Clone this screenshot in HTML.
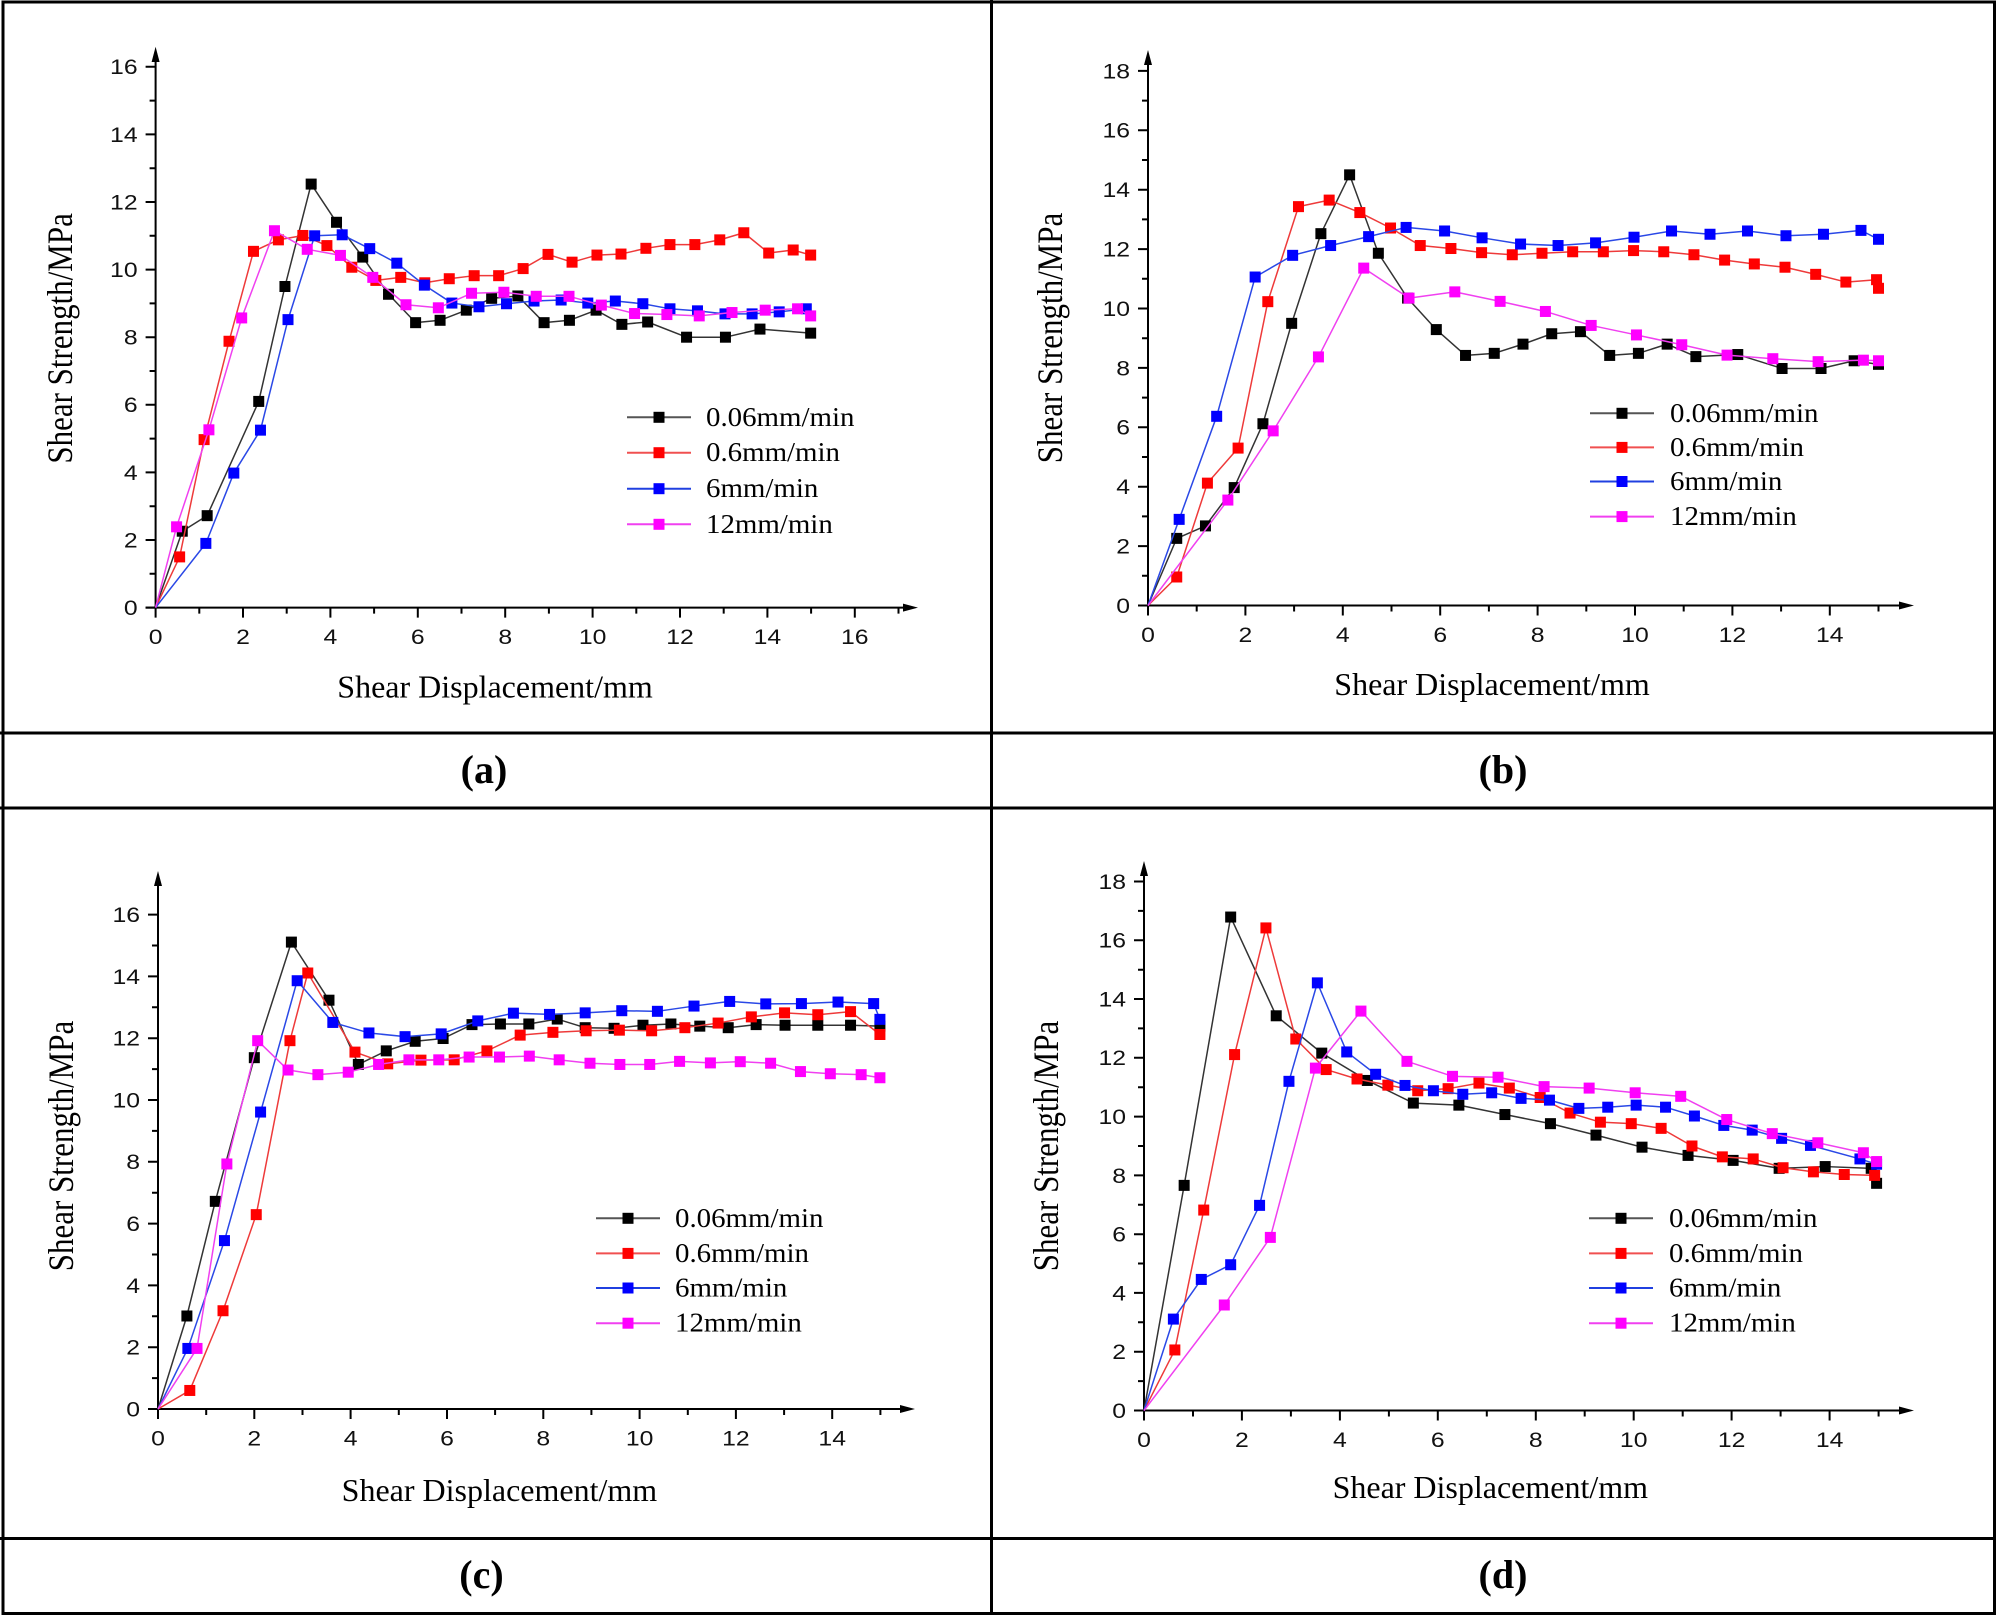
<!DOCTYPE html>
<html><head><meta charset="utf-8"><style>
html,body{margin:0;padding:0;background:#fff;}
svg{display:block;}
.tk{font-family:"Liberation Sans",Arial,sans-serif;font-size:21px;fill:#111;}
.lg{font-family:"Liberation Serif","Times New Roman",serif;font-size:27px;fill:#000;}
.al{font-family:"Liberation Serif","Times New Roman",serif;font-size:31px;fill:#000;}
.cp{font-family:"Liberation Serif","Times New Roman",serif;font-size:40px;font-weight:bold;fill:#000;}
.s{fill:none;stroke-width:1.5;vector-effect:non-scaling-stroke;stroke-linejoin:round;}
</style></head><body>
<svg width="1996" height="1615" viewBox="0 0 1996 1615" xmlns="http://www.w3.org/2000/svg">
<defs>
<marker id="a0" markerUnits="userSpaceOnUse" style="overflow:visible" markerWidth="1" markerHeight="1"><rect x="-0.1259" y="-0.1627" width="0.2517" height="0.3254" fill="#000"/></marker>
<marker id="a1" markerUnits="userSpaceOnUse" style="overflow:visible" markerWidth="1" markerHeight="1"><rect x="-0.1259" y="-0.1627" width="0.2517" height="0.3254" fill="#f00"/></marker>
<marker id="a2" markerUnits="userSpaceOnUse" style="overflow:visible" markerWidth="1" markerHeight="1"><rect x="-0.1259" y="-0.1627" width="0.2517" height="0.3254" fill="#00f"/></marker>
<marker id="a3" markerUnits="userSpaceOnUse" style="overflow:visible" markerWidth="1" markerHeight="1"><rect x="-0.1259" y="-0.1627" width="0.2517" height="0.3254" fill="#f0f"/></marker>
<marker id="b0" markerUnits="userSpaceOnUse" style="overflow:visible" markerWidth="1" markerHeight="1"><rect x="-0.1129" y="-0.1852" width="0.2259" height="0.3704" fill="#000"/></marker>
<marker id="b1" markerUnits="userSpaceOnUse" style="overflow:visible" markerWidth="1" markerHeight="1"><rect x="-0.1129" y="-0.1852" width="0.2259" height="0.3704" fill="#f00"/></marker>
<marker id="b2" markerUnits="userSpaceOnUse" style="overflow:visible" markerWidth="1" markerHeight="1"><rect x="-0.1129" y="-0.1852" width="0.2259" height="0.3704" fill="#00f"/></marker>
<marker id="b3" markerUnits="userSpaceOnUse" style="overflow:visible" markerWidth="1" markerHeight="1"><rect x="-0.1129" y="-0.1852" width="0.2259" height="0.3704" fill="#f0f"/></marker>
<marker id="c0" markerUnits="userSpaceOnUse" style="overflow:visible" markerWidth="1" markerHeight="1"><rect x="-0.1142" y="-0.178" width="0.2284" height="0.356" fill="#000"/></marker>
<marker id="c1" markerUnits="userSpaceOnUse" style="overflow:visible" markerWidth="1" markerHeight="1"><rect x="-0.1142" y="-0.178" width="0.2284" height="0.356" fill="#f00"/></marker>
<marker id="c2" markerUnits="userSpaceOnUse" style="overflow:visible" markerWidth="1" markerHeight="1"><rect x="-0.1142" y="-0.178" width="0.2284" height="0.356" fill="#00f"/></marker>
<marker id="c3" markerUnits="userSpaceOnUse" style="overflow:visible" markerWidth="1" markerHeight="1"><rect x="-0.1142" y="-0.178" width="0.2284" height="0.356" fill="#f0f"/></marker>
<marker id="d0" markerUnits="userSpaceOnUse" style="overflow:visible" markerWidth="1" markerHeight="1"><rect x="-0.1123" y="-0.1871" width="0.2246" height="0.3743" fill="#000"/></marker>
<marker id="d1" markerUnits="userSpaceOnUse" style="overflow:visible" markerWidth="1" markerHeight="1"><rect x="-0.1123" y="-0.1871" width="0.2246" height="0.3743" fill="#f00"/></marker>
<marker id="d2" markerUnits="userSpaceOnUse" style="overflow:visible" markerWidth="1" markerHeight="1"><rect x="-0.1123" y="-0.1871" width="0.2246" height="0.3743" fill="#00f"/></marker>
<marker id="d3" markerUnits="userSpaceOnUse" style="overflow:visible" markerWidth="1" markerHeight="1"><rect x="-0.1123" y="-0.1871" width="0.2246" height="0.3743" fill="#f0f"/></marker>
</defs>

<rect width="1996" height="1615" fill="#fff"/>

<!-- frame -->
<g stroke="#000" stroke-width="3" fill="none">
<rect x="3" y="2" width="1991.5" height="1611.5"/>
<line x1="991.5" y1="0" x2="991.5" y2="1615"/>
<line x1="0" y1="733" x2="1996" y2="733"/>
<line x1="0" y1="808" x2="1996" y2="808"/>
<line x1="0" y1="1538.5" x2="1996" y2="1538.5"/>
</g>

<!-- ================= PANEL A ================= -->
<g stroke="#000" stroke-width="2" fill="none">
<path d="M155.6,607.6V58 M145.6,607.6H906"/>
<path d="M155.6,607.6v10 M199.3,607.6v6 M243,607.6v10 M286.7,607.6v6 M330.4,607.6v10 M374.1,607.6v6 M417.8,607.6v10 M461.5,607.6v6 M505.2,607.6v10 M548.9,607.6v6 M592.6,607.6v10 M636.3,607.6v6 M680,607.6v10 M723.7,607.6v6 M767.4,607.6v10 M811.1,607.6v6 M854.8,607.6v10 M898.5,607.6v6"/>
<path d="M155.6,607.6h-10 M155.6,573.8h-6 M155.6,540h-10 M155.6,506.2h-6 M155.6,472.4h-10 M155.6,438.6h-6 M155.6,404.8h-10 M155.6,371h-6 M155.6,337.2h-10 M155.6,303.4h-6 M155.6,269.6h-10 M155.6,235.8h-6 M155.6,202h-10 M155.6,168.2h-6 M155.6,134.4h-10 M155.6,100.6h-6 M155.6,66.8h-10"/>
</g>
<polygon points="155.6,46.7 151.6,62 159.6,62" fill="#000"/>
<polygon points="918,607.6 903,603.6 903,611.6" fill="#000"/>
<g class="tk" text-anchor="end">
<text transform="translate(137.6,615) scale(1.18,1)">0</text>
<text transform="translate(137.6,547.4) scale(1.18,1)">2</text>
<text transform="translate(137.6,479.8) scale(1.18,1)">4</text>
<text transform="translate(137.6,412.2) scale(1.18,1)">6</text>
<text transform="translate(137.6,344.6) scale(1.18,1)">8</text>
<text transform="translate(137.6,277) scale(1.18,1)">10</text>
<text transform="translate(137.6,209.4) scale(1.18,1)">12</text>
<text transform="translate(137.6,141.8) scale(1.18,1)">14</text>
<text transform="translate(137.6,74.2) scale(1.18,1)">16</text>
</g>
<g class="tk" text-anchor="middle">
<text transform="translate(155.6,644) scale(1.18,1)">0</text>
<text transform="translate(243,644) scale(1.18,1)">2</text>
<text transform="translate(330.4,644) scale(1.18,1)">4</text>
<text transform="translate(417.8,644) scale(1.18,1)">6</text>
<text transform="translate(505.2,644) scale(1.18,1)">8</text>
<text transform="translate(592.6,644) scale(1.18,1)">10</text>
<text transform="translate(680,644) scale(1.18,1)">12</text>
<text transform="translate(767.4,644) scale(1.18,1)">14</text>
<text transform="translate(854.8,644) scale(1.18,1)">16</text>
</g>
<text class="al" text-anchor="middle" transform="translate(72,338.4) scale(1.15,1) rotate(-90)">Shear Strength/MPa</text>
<text class="al" text-anchor="middle" x="495" y="697.4" style="font-size:32px">Shear Displacement/mm</text>
<g transform="translate(155.6,607.6) scale(43.7,-33.8)">
<polyline class="s" stroke="#333" marker-mid="url(#a0)" marker-end="url(#a0)" points="0,0 0.61,2.26 1.18,2.72 2.36,6.1 2.96,9.5 3.56,12.53 4.14,11.4 4.74,10.37 5.33,9.27 5.95,8.43 6.51,8.5 7.11,8.8 7.69,9.15 8.29,9.22 8.89,8.43 9.47,8.5 10.08,8.8 10.67,8.38 11.26,8.45 12.15,8.0 13.04,8.0 13.83,8.24 14.99,8.12"/>
<polyline class="s" stroke="#ee3a3a" marker-mid="url(#a1)" marker-end="url(#a1)" points="0,0 0.55,1.5 1.11,4.97 1.68,7.88 2.24,10.54 2.81,10.88 3.37,11.01 3.92,10.71 4.49,10.07 5.04,9.68 5.61,9.77 6.16,9.61 6.72,9.73 7.29,9.82 7.85,9.82 8.41,10.03 8.98,10.45 9.53,10.22 10.10,10.43 10.65,10.46 11.22,10.63 11.77,10.74 12.34,10.74 12.91,10.88 13.46,11.09 14.03,10.49 14.59,10.58 14.99,10.43"/>
<polyline class="s" stroke="#2a48e6" marker-mid="url(#a2)" marker-end="url(#a2)" points="0,0 1.15,1.9 1.79,3.98 2.40,5.25 3.03,8.52 3.64,11.0 4.27,11.03 4.90,10.62 5.52,10.19 6.15,9.54 6.78,9.01 7.40,8.90 8.03,8.99 8.66,9.07 9.28,9.10 9.89,9.01 10.52,9.07 11.15,8.99 11.77,8.84 12.40,8.78 13.03,8.69 13.65,8.69 14.27,8.75 14.89,8.84"/>
<polyline class="s" stroke="#f040f0" marker-mid="url(#a3)" marker-end="url(#a3)" points="0,0 0.48,2.39 1.22,5.26 1.97,8.57 2.72,11.15 3.47,10.6 4.23,10.42 4.97,9.77 5.73,8.96 6.47,8.87 7.23,9.30 7.97,9.33 8.71,9.21 9.46,9.21 10.20,8.95 10.96,8.70 11.70,8.67 12.44,8.63 13.19,8.73 13.95,8.80 14.69,8.84 14.99,8.63"/>
</g>
<g stroke-width="2">
<line x1="627" y1="417.3" x2="691" y2="417.3" stroke="#555"/>
<line x1="627" y1="452.7" x2="691" y2="452.7" stroke="#f05050"/>
<line x1="627" y1="488.7" x2="691" y2="488.7" stroke="#2040e0"/>
<line x1="627" y1="524.3" x2="691" y2="524.3" stroke="#f040f0"/>
</g>
<rect x="653.5" y="411.8" width="11" height="11" fill="#000"/>
<rect x="653.5" y="447.2" width="11" height="11" fill="#f00"/>
<rect x="653.5" y="483.2" width="11" height="11" fill="#00f"/>
<rect x="653.5" y="518.8" width="11" height="11" fill="#f0f"/>
<g class="lg">
<text transform="translate(706,425.8) scale(1.07,1)">0.06mm/min</text>
<text transform="translate(706,461.2) scale(1.07,1)">0.6mm/min</text>
<text transform="translate(706,497.2) scale(1.07,1)">6mm/min</text>
<text transform="translate(706,532.8) scale(1.07,1)">12mm/min</text>
</g>
<text class="cp" text-anchor="middle" x="484" y="783">(a)</text>

<!-- ================= PANEL B ================= -->
<g stroke="#000" stroke-width="2" fill="none">
<path d="M1148,605.5V62 M1138,605.5H1902"/>
<path d="M1148,605.5v10 M1196.7,605.5v6 M1245.4,605.5v10 M1294.1,605.5v6 M1342.8,605.5v10 M1391.5,605.5v6 M1440.2,605.5v10 M1488.9,605.5v6 M1537.6,605.5v10 M1586.3,605.5v6 M1635,605.5v10 M1683.7,605.5v6 M1732.4,605.5v10 M1781.1,605.5v6 M1829.8,605.5v10 M1878.5,605.5v6"/>
<path d="M1148,605.5h-10 M1148,575.8h-6 M1148,546.1h-10 M1148,516.4h-6 M1148,486.7h-10 M1148,457h-6 M1148,427.3h-10 M1148,397.6h-6 M1148,367.9h-10 M1148,338.2h-6 M1148,308.5h-10 M1148,278.8h-6 M1148,249.1h-10 M1148,219.4h-6 M1148,189.7h-10 M1148,160h-6 M1148,130.3h-10 M1148,100.6h-6 M1148,70.9h-10"/>
</g>
<polygon points="1148,50 1144,65 1152,65" fill="#000"/>
<polygon points="1914,605.5 1899,601.5 1899,609.5" fill="#000"/>
<g class="tk" text-anchor="end">
<text transform="translate(1130,612.9) scale(1.18,1)">0</text>
<text transform="translate(1130,553.5) scale(1.18,1)">2</text>
<text transform="translate(1130,494.1) scale(1.18,1)">4</text>
<text transform="translate(1130,434.7) scale(1.18,1)">6</text>
<text transform="translate(1130,375.3) scale(1.18,1)">8</text>
<text transform="translate(1130,315.9) scale(1.18,1)">10</text>
<text transform="translate(1130,256.5) scale(1.18,1)">12</text>
<text transform="translate(1130,197.1) scale(1.18,1)">14</text>
<text transform="translate(1130,137.7) scale(1.18,1)">16</text>
<text transform="translate(1130,78.3) scale(1.18,1)">18</text>
</g>
<g class="tk" text-anchor="middle">
<text transform="translate(1148,642) scale(1.18,1)">0</text>
<text transform="translate(1245.4,642) scale(1.18,1)">2</text>
<text transform="translate(1342.8,642) scale(1.18,1)">4</text>
<text transform="translate(1440.2,642) scale(1.18,1)">6</text>
<text transform="translate(1537.6,642) scale(1.18,1)">8</text>
<text transform="translate(1635,642) scale(1.18,1)">10</text>
<text transform="translate(1732.4,642) scale(1.18,1)">12</text>
<text transform="translate(1829.8,642) scale(1.18,1)">14</text>
</g>
<text class="al" text-anchor="middle" transform="translate(1062,338) scale(1.15,1) rotate(-90)">Shear Strength/MPa</text>
<text class="al" text-anchor="middle" x="1492" y="694.8" style="font-size:32px">Shear Displacement/mm</text>
<g transform="translate(1148,605.5) scale(48.7,-29.7)">
<polyline class="s" stroke="#333" marker-mid="url(#b0)" marker-end="url(#b0)" points="0,0 0.59,2.26 1.18,2.68 1.77,3.97 2.36,6.12 2.95,9.50 3.55,12.52 4.14,14.50 4.73,11.86 5.33,10.35 5.92,9.29 6.52,8.42 7.11,8.49 7.70,8.80 8.29,9.15 8.88,9.22 9.48,8.42 10.07,8.49 10.66,8.80 11.25,8.38 12.11,8.45 13.02,7.98 13.82,7.98 14.5,8.24 15.0,8.12"/>
<polyline class="s" stroke="#ee3a3a" marker-mid="url(#b1)" marker-end="url(#b1)" points="0,0 0.59,0.96 1.22,4.12 1.85,5.30 2.46,10.23 3.09,13.43 3.72,13.65 4.35,13.23 4.98,12.71 5.59,12.12 6.22,12.02 6.85,11.88 7.48,11.81 8.09,11.86 8.72,11.91 9.35,11.91 9.97,11.95 10.59,11.91 11.21,11.81 11.84,11.63 12.45,11.50 13.08,11.39 13.71,11.15 14.33,10.89 14.96,10.97 15.0,10.68"/>
<polyline class="s" stroke="#2a48e6" marker-mid="url(#b2)" marker-end="url(#b2)" points="0,0 0.64,2.90 1.41,6.37 2.20,11.06 2.97,11.79 3.75,12.12 4.53,12.42 5.30,12.73 6.09,12.61 6.86,12.38 7.65,12.17 8.42,12.12 9.19,12.21 9.98,12.40 10.75,12.61 11.54,12.50 12.31,12.61 13.10,12.45 13.87,12.50 14.64,12.63 15.0,12.33"/>
<polyline class="s" stroke="#f040f0" marker-mid="url(#b3)" marker-end="url(#b3)" points="0,0 1.64,3.55 2.57,5.88 3.50,8.37 4.43,11.36 5.36,10.35 6.30,10.56 7.23,10.24 8.16,9.90 9.10,9.43 10.03,9.11 10.96,8.78 11.89,8.43 12.83,8.31 13.76,8.21 14.69,8.26 15.0,8.24"/>
</g>
<g stroke-width="2">
<line x1="1590" y1="413.3" x2="1654" y2="413.3" stroke="#555"/>
<line x1="1590" y1="447.4" x2="1654" y2="447.4" stroke="#f05050"/>
<line x1="1590" y1="481.5" x2="1654" y2="481.5" stroke="#2040e0"/>
<line x1="1590" y1="516.6" x2="1654" y2="516.6" stroke="#f040f0"/>
</g>
<rect x="1616.5" y="407.8" width="11" height="11" fill="#000"/>
<rect x="1616.5" y="441.9" width="11" height="11" fill="#f00"/>
<rect x="1616.5" y="476" width="11" height="11" fill="#00f"/>
<rect x="1616.5" y="511.1" width="11" height="11" fill="#f0f"/>
<g class="lg">
<text transform="translate(1670,421.8) scale(1.07,1)">0.06mm/min</text>
<text transform="translate(1670,455.9) scale(1.07,1)">0.6mm/min</text>
<text transform="translate(1670,490) scale(1.07,1)">6mm/min</text>
<text transform="translate(1670,525.1) scale(1.07,1)">12mm/min</text>
</g>
<text class="cp" text-anchor="middle" x="1503" y="783">(b)</text>

<!-- ================= PANEL C ================= -->
<g stroke="#000" stroke-width="2" fill="none">
<path d="M158,1409V883 M148,1409H903"/>
<path d="M158,1409v10 M206.2,1409v6 M254.3,1409v10 M302.5,1409v6 M350.6,1409v10 M398.8,1409v6 M447,1409v10 M495.1,1409v6 M543.3,1409v10 M591.4,1409v6 M639.6,1409v10 M687.8,1409v6 M735.9,1409v10 M784.1,1409v6 M832.2,1409v10 M880.4,1409v6"/>
<path d="M158,1409h-10 M158,1378.1h-6 M158,1347.2h-10 M158,1316.3h-6 M158,1285.4h-10 M158,1254.5h-6 M158,1223.6h-10 M158,1192.7h-6 M158,1161.8h-10 M158,1130.9h-6 M158,1100h-10 M158,1069.1h-6 M158,1038.2h-10 M158,1007.3h-6 M158,976.4h-10 M158,945.5h-6 M158,914.6h-10"/>
</g>
<polygon points="158,871 154,886 162,886" fill="#000"/>
<polygon points="915,1409 900,1405 900,1413" fill="#000"/>
<g class="tk" text-anchor="end">
<text transform="translate(140,1416.4) scale(1.18,1)">0</text>
<text transform="translate(140,1354.6) scale(1.18,1)">2</text>
<text transform="translate(140,1292.8) scale(1.18,1)">4</text>
<text transform="translate(140,1231) scale(1.18,1)">6</text>
<text transform="translate(140,1169.2) scale(1.18,1)">8</text>
<text transform="translate(140,1107.4) scale(1.18,1)">10</text>
<text transform="translate(140,1045.6) scale(1.18,1)">12</text>
<text transform="translate(140,983.8) scale(1.18,1)">14</text>
<text transform="translate(140,922) scale(1.18,1)">16</text>
</g>
<g class="tk" text-anchor="middle">
<text transform="translate(158,1445.5) scale(1.18,1)">0</text>
<text transform="translate(254.3,1445.5) scale(1.18,1)">2</text>
<text transform="translate(350.6,1445.5) scale(1.18,1)">4</text>
<text transform="translate(447,1445.5) scale(1.18,1)">6</text>
<text transform="translate(543.3,1445.5) scale(1.18,1)">8</text>
<text transform="translate(639.6,1445.5) scale(1.18,1)">10</text>
<text transform="translate(735.9,1445.5) scale(1.18,1)">12</text>
<text transform="translate(832.2,1445.5) scale(1.18,1)">14</text>
</g>
<text class="al" text-anchor="middle" transform="translate(73,1146) scale(1.15,1) rotate(-90)">Shear Strength/MPa</text>
<text class="al" text-anchor="middle" x="499.4" y="1501" style="font-size:32px">Shear Displacement/mm</text>
<g transform="translate(158,1409) scale(48.16,-30.9)">
<polyline class="s" stroke="#333" marker-mid="url(#c0)" marker-end="url(#c0)" points="0,0 0.60,3.01 1.19,6.72 2.00,11.37 2.77,15.11 3.55,13.23 4.16,11.15 4.74,11.59 5.34,11.90 5.92,11.99 6.52,12.44 7.11,12.46 7.70,12.46 8.29,12.62 8.87,12.34 9.47,12.32 10.07,12.42 10.65,12.46 11.25,12.39 11.84,12.34 12.42,12.44 13.02,12.42 13.70,12.42 14.38,12.42 14.99,12.39"/>
<polyline class="s" stroke="#ee3a3a" marker-mid="url(#c1)" marker-end="url(#c1)" points="0,0 0.66,0.60 1.35,3.18 2.04,6.29 2.74,11.92 3.11,14.11 4.09,11.55 4.77,11.17 5.46,11.29 6.15,11.30 6.83,11.59 7.52,12.10 8.20,12.19 8.89,12.24 9.58,12.26 10.25,12.24 10.94,12.34 11.63,12.49 12.32,12.69 13.01,12.82 13.70,12.76 14.38,12.86 14.99,12.12"/>
<polyline class="s" stroke="#2a48e6" marker-mid="url(#c2)" marker-end="url(#c2)" points="0,0 0.62,1.96 1.38,5.45 2.13,9.61 2.89,13.86 3.63,12.51 4.38,12.17 5.13,12.05 5.88,12.14 6.64,12.56 7.38,12.81 8.13,12.77 8.87,12.82 9.63,12.89 10.37,12.87 11.13,13.04 11.87,13.19 12.62,13.11 13.36,13.12 14.12,13.17 14.86,13.12 14.99,12.61"/>
<polyline class="s" stroke="#f040f0" marker-mid="url(#c3)" marker-end="url(#c3)" points="0,0 0.81,1.96 1.43,7.93 2.07,11.92 2.70,10.97 3.32,10.82 3.95,10.90 4.58,11.15 5.21,11.30 5.83,11.30 6.46,11.39 7.09,11.39 7.71,11.42 8.33,11.30 8.97,11.19 9.59,11.15 10.21,11.15 10.83,11.25 11.47,11.20 12.09,11.24 12.72,11.19 13.34,10.92 13.96,10.85 14.60,10.82 14.99,10.72"/>
</g>
<g stroke-width="2">
<line x1="596" y1="1218.3" x2="660" y2="1218.3" stroke="#555"/>
<line x1="596" y1="1253.4" x2="660" y2="1253.4" stroke="#f05050"/>
<line x1="596" y1="1288" x2="660" y2="1288" stroke="#2040e0"/>
<line x1="596" y1="1323.2" x2="660" y2="1323.2" stroke="#f040f0"/>
</g>
<rect x="622.5" y="1212.8" width="11" height="11" fill="#000"/>
<rect x="622.5" y="1247.9" width="11" height="11" fill="#f00"/>
<rect x="622.5" y="1282.5" width="11" height="11" fill="#00f"/>
<rect x="622.5" y="1317.7" width="11" height="11" fill="#f0f"/>
<g class="lg">
<text transform="translate(675,1226.8) scale(1.07,1)">0.06mm/min</text>
<text transform="translate(675,1261.9) scale(1.07,1)">0.6mm/min</text>
<text transform="translate(675,1296.5) scale(1.07,1)">6mm/min</text>
<text transform="translate(675,1331.7) scale(1.07,1)">12mm/min</text>
</g>
<text class="cp" text-anchor="middle" x="481.5" y="1588">(c)</text>

<!-- ================= PANEL D ================= -->
<g stroke="#000" stroke-width="2" fill="none">
<path d="M1144,1410.5V873 M1134,1410.5H1902"/>
<path d="M1144,1410.5v10 M1193,1410.5v6 M1241.9,1410.5v10 M1290.9,1410.5v6 M1339.9,1410.5v10 M1388.9,1410.5v6 M1437.8,1410.5v10 M1486.8,1410.5v6 M1535.8,1410.5v10 M1584.7,1410.5v6 M1633.7,1410.5v10 M1682.7,1410.5v6 M1731.6,1410.5v10 M1780.6,1410.5v6 M1829.6,1410.5v10 M1878.6,1410.5v6"/>
<path d="M1144,1410.5h-10 M1144,1381.1h-6 M1144,1351.7h-10 M1144,1322.3h-6 M1144,1292.9h-10 M1144,1263.5h-6 M1144,1234.2h-10 M1144,1204.8h-6 M1144,1175.4h-10 M1144,1146h-6 M1144,1116.6h-10 M1144,1087.2h-6 M1144,1057.8h-10 M1144,1028.4h-6 M1144,999h-10 M1144,969.7h-6 M1144,940.3h-10 M1144,910.9h-6 M1144,881.5h-10"/>
</g>
<polygon points="1144,861 1140,876 1148,876" fill="#000"/>
<polygon points="1914,1410.5 1899,1406.5 1899,1414.5" fill="#000"/>
<g class="tk" text-anchor="end">
<text transform="translate(1126,1417.9) scale(1.18,1)">0</text>
<text transform="translate(1126,1359.1) scale(1.18,1)">2</text>
<text transform="translate(1126,1300.3) scale(1.18,1)">4</text>
<text transform="translate(1126,1241.6) scale(1.18,1)">6</text>
<text transform="translate(1126,1182.8) scale(1.18,1)">8</text>
<text transform="translate(1126,1124) scale(1.18,1)">10</text>
<text transform="translate(1126,1065.2) scale(1.18,1)">12</text>
<text transform="translate(1126,1006.4) scale(1.18,1)">14</text>
<text transform="translate(1126,947.7) scale(1.18,1)">16</text>
<text transform="translate(1126,888.9) scale(1.18,1)">18</text>
</g>
<g class="tk" text-anchor="middle">
<text transform="translate(1144,1447) scale(1.18,1)">0</text>
<text transform="translate(1241.9,1447) scale(1.18,1)">2</text>
<text transform="translate(1339.9,1447) scale(1.18,1)">4</text>
<text transform="translate(1437.8,1447) scale(1.18,1)">6</text>
<text transform="translate(1535.8,1447) scale(1.18,1)">8</text>
<text transform="translate(1633.7,1447) scale(1.18,1)">10</text>
<text transform="translate(1731.6,1447) scale(1.18,1)">12</text>
<text transform="translate(1829.6,1447) scale(1.18,1)">14</text>
</g>
<text class="al" text-anchor="middle" transform="translate(1058,1146) scale(1.15,1) rotate(-90)">Shear Strength/MPa</text>
<text class="al" text-anchor="middle" x="1490.3" y="1498" style="font-size:32px">Shear Displacement/mm</text>
<g transform="translate(1144,1410.5) scale(48.97,-29.39)">
<polyline class="s" stroke="#333" marker-mid="url(#d0)" marker-end="url(#d0)" points="0,0 0.82,7.66 1.77,16.79 2.70,13.43 3.63,12.16 4.56,11.23 5.50,10.46 6.43,10.39 7.37,10.07 8.30,9.76 9.23,9.37 10.17,8.96 11.11,8.68 12.03,8.51 12.97,8.24 13.91,8.30 14.85,8.24 14.96,7.73"/>
<polyline class="s" stroke="#ee3a3a" marker-mid="url(#d1)" marker-end="url(#d1)" points="0,0 0.63,2.06 1.22,6.82 1.85,12.11 2.49,16.42 3.10,12.64 3.72,11.60 4.35,11.28 4.98,11.07 5.59,10.88 6.21,10.95 6.84,11.14 7.46,10.97 8.09,10.65 8.70,10.12 9.32,9.81 9.95,9.76 10.56,9.60 11.19,9.00 11.81,8.63 12.44,8.56 13.05,8.26 13.67,8.12 14.30,8.03 14.92,8.00"/>
<polyline class="s" stroke="#2a48e6" marker-mid="url(#d2)" marker-end="url(#d2)" points="0,0 0.60,3.11 1.17,4.46 1.77,4.96 2.36,6.98 2.96,11.20 3.54,14.55 4.14,12.20 4.73,11.44 5.33,11.06 5.91,10.88 6.51,10.76 7.10,10.81 7.70,10.62 8.28,10.56 8.88,10.28 9.47,10.32 10.05,10.39 10.65,10.32 11.24,10.02 11.84,9.70 12.42,9.54 13.02,9.26 13.61,9.02 14.62,8.56 14.96,8.38"/>
<polyline class="s" stroke="#f040f0" marker-mid="url(#d3)" marker-end="url(#d3)" points="0,0 1.64,3.59 2.58,5.89 3.50,11.65 4.43,13.59 5.37,11.88 6.30,11.37 7.23,11.34 8.17,11.02 9.09,10.97 10.03,10.81 10.96,10.69 11.90,9.90 12.83,9.42 13.76,9.11 14.69,8.77 14.96,8.47"/>
</g>
<g stroke-width="2">
<line x1="1589" y1="1218.3" x2="1653" y2="1218.3" stroke="#555"/>
<line x1="1589" y1="1253.4" x2="1653" y2="1253.4" stroke="#f05050"/>
<line x1="1589" y1="1288" x2="1653" y2="1288" stroke="#2040e0"/>
<line x1="1589" y1="1323.2" x2="1653" y2="1323.2" stroke="#f040f0"/>
</g>
<rect x="1615.5" y="1212.8" width="11" height="11" fill="#000"/>
<rect x="1615.5" y="1247.9" width="11" height="11" fill="#f00"/>
<rect x="1615.5" y="1282.5" width="11" height="11" fill="#00f"/>
<rect x="1615.5" y="1317.7" width="11" height="11" fill="#f0f"/>
<g class="lg">
<text transform="translate(1669,1226.8) scale(1.07,1)">0.06mm/min</text>
<text transform="translate(1669,1261.9) scale(1.07,1)">0.6mm/min</text>
<text transform="translate(1669,1296.5) scale(1.07,1)">6mm/min</text>
<text transform="translate(1669,1331.7) scale(1.07,1)">12mm/min</text>
</g>
<text class="cp" text-anchor="middle" x="1503" y="1588">(d)</text>
</svg>
</body></html>
